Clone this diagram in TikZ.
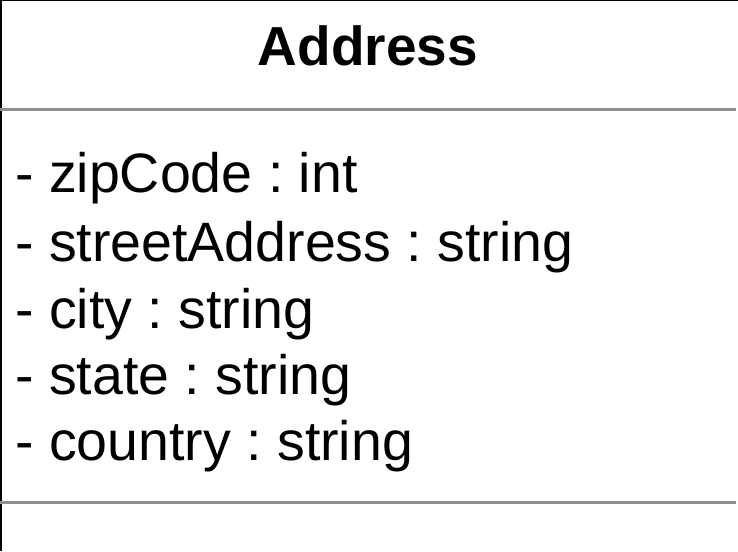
\documentclass[tikz,border=0pt]{standalone}
\usepackage{fontspec}
\setmainfont{Liberation Sans}
\frenchspacing
\definecolor{sepgray}{HTML}{8F8F8F}
\tikzset{
  attr/.style={anchor=base west, inner sep=0pt, font=\fontsize{55.5}{60}\selectfont},
  title/.style={anchor=base, inner sep=0pt, font=\fontsize{55}{60}\selectfont\bfseries},
  border/.style={draw=black, line width=2.5pt},
  sep/.style={draw=sepgray, line width=3.5pt}
}
\begin{document}
\begin{tikzpicture}[x=1pt,y=-1pt]
\useasboundingbox (0,0) rectangle (738,551);
\fill[white] (0,0) rectangle (738,551);
\draw[border] (1.2,0) -- (1.2,551);
\draw[draw=black, line width=1.5pt] (0,0.75) -- (738,0.75);
\node[title] (t) at (368,65) {Address};
\draw[sep] (0,109.5) -- (736,109.5);
\node[attr] (a1) at (15,192) {- zipCode : int};
\node[attr] (a2) at (15,261) {- streetAddress : string};
\node[attr] (a3) at (15,328) {- city : string};
\node[attr] (a4) at (15,394) {- state : string};
\node[attr] (a5) at (15,460) {- country : string};
\draw[sep] (0,502.5) -- (736,502.5);
\end{tikzpicture}
\end{document}
